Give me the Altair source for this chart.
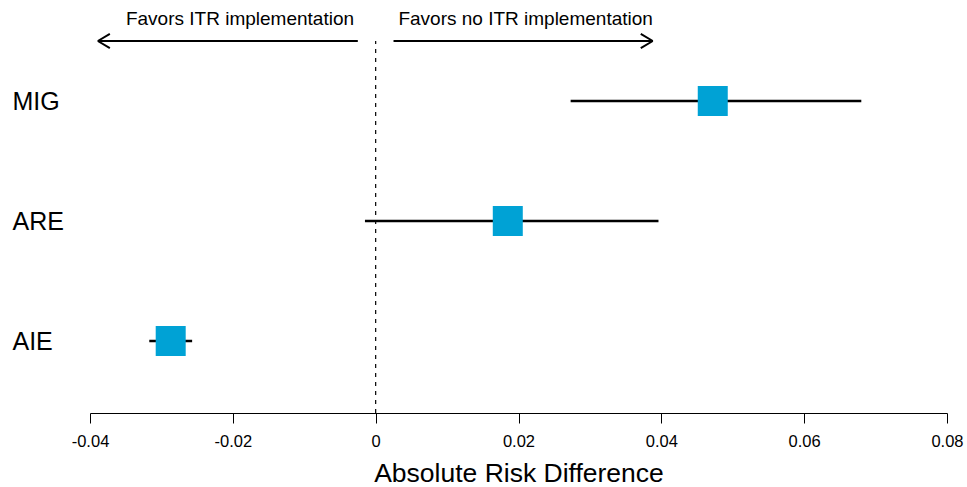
import altair as alt
import pandas as pd

# ---- data ----
categories = ["MIG", "ARE", "AIE"]
estimates = [0.0472, 0.0185, -0.0287]
lower = [0.0273, -0.0015, -0.0317]
upper = [0.0680, 0.0396, -0.0257]

x_ticks = [-0.04, -0.02, 0, 0.02, 0.04, 0.06, 0.08]

arrow_labels = ["Favors ITR implementation", "Favors no ITR implementation"]
arrow_text_x = [-0.019, 0.021]
arrow_start = [-0.0025, 0.0025]
arrow_end = [-0.0389, 0.0388]

FONT = "Liberation Sans, Arial, Helvetica, sans-serif"
BLUE = "#00A2D5"

n = len(categories)
df = pd.DataFrame({
    "label": categories,
    "pos": [n - i for i in range(n)],
    "est": estimates,
    "lo": lower,
    "hi": upper,
})

Y_TOP = 3.8
Y_BOT = 0.4
ARROW_Y = 3.5
TEXT_Y = 3.63

label_expr = " : ".join(
    [f"datum.value == {n - i} ? '{c}'" for i, c in enumerate(categories)]
) + " : ''"

y_scale = alt.Scale(domain=[Y_BOT, Y_TOP], nice=False, zero=False)
x_scale = alt.Scale(domain=[-0.04, 0.08], nice=False, zero=False)

x_axis = alt.Axis(
    values=x_ticks,
    labelExpr="datum.value == 0 ? '0' : (datum.value < 0 ? '-' : '') + format(abs(datum.value), '.2f')",
    title="Absolute Risk Difference",
    grid=False,
    domainColor="black",
    domainWidth=1,
    tickColor="black",
    tickWidth=1,
    tickSize=10,
    labelFont=FONT,
    labelFontSize=16.5,
    labelColor="black",
    labelPadding=10,
    labelFlush=False,
    titleFont=FONT,
    titleFontSize=26.5,
    titleFontWeight="normal",
    titleColor="black",
    titleBaseline="alphabetic",
    titleY=68,
)

y_axis = alt.Axis(
    values=[n - i for i in range(n)],
    labelExpr=label_expr,
    title=None,
    grid=False,
    domain=False,
    ticks=False,
    labelFont=FONT,
    labelFontSize=25,
    labelColor="black",
    labelAlign="left",
    labelBaseline="middle",
    labelPadding=78,
)

base = alt.Chart(df)

ci = base.mark_rule(color="black", strokeWidth=2.3).encode(
    x=alt.X("lo:Q", scale=x_scale, axis=x_axis),
    x2="hi:Q",
    y=alt.Y("pos:Q", scale=y_scale, axis=y_axis),
)

pts = base.mark_square(color=BLUE, opacity=1, size=900).encode(
    x=alt.X("est:Q", scale=x_scale),
    y=alt.Y("pos:Q", scale=y_scale),
)

zero_df = pd.DataFrame({"x": [0], "y0": [Y_BOT], "y1": [ARROW_Y]})
zero_line = alt.Chart(zero_df).mark_rule(
    color="black", strokeWidth=1.2, strokeDash=[4, 5]
).encode(
    x=alt.X("x:Q", scale=x_scale),
    y=alt.Y("y0:Q", scale=y_scale),
    y2="y1:Q",
)

arr_df = pd.DataFrame({
    "start": arrow_start,
    "end": arrow_end,
    "y": [ARROW_Y] * 2,
    "dir": ["left", "right"],
})
arrow_lines = alt.Chart(arr_df).mark_rule(color="black", strokeWidth=2).encode(
    x=alt.X("start:Q", scale=x_scale),
    x2="end:Q",
    y=alt.Y("y:Q", scale=y_scale),
)

left_head = alt.Chart(arr_df[arr_df["dir"] == "left"]).mark_point(
    shape="M0,0L1,-0.6M0,0L1,0.6", size=576, filled=False,
    color="black", strokeWidth=2, opacity=1,
).encode(
    x=alt.X("end:Q", scale=x_scale),
    y=alt.Y("y:Q", scale=y_scale),
)
right_head = alt.Chart(arr_df[arr_df["dir"] == "right"]).mark_point(
    shape="M0,0L-1,-0.6M0,0L-1,0.6", size=576, filled=False,
    color="black", strokeWidth=2, opacity=1,
).encode(
    x=alt.X("end:Q", scale=x_scale),
    y=alt.Y("y:Q", scale=y_scale),
)

txt_df = pd.DataFrame({"x": arrow_text_x, "y": [TEXT_Y] * 2, "t": arrow_labels})
texts = alt.Chart(txt_df).mark_text(
    font=FONT, fontSize=19, color="black", align="center", baseline="alphabetic"
).encode(
    x=alt.X("x:Q", scale=x_scale),
    y=alt.Y("y:Q", scale=y_scale),
    text="t:N",
)

chart = alt.layer(
    zero_line, ci, pts, arrow_lines, left_head, right_head, texts
).properties(
    width=857,
    height=408,
    background="white",
    autosize=alt.AutoSizeParams(type="none"),
    padding={"left": 90, "top": 5, "right": 20, "bottom": 74},
).configure_view(strokeWidth=0, stroke=None)

chart.save("out.html", embed_options={"renderer": "svg", "actions": False})
